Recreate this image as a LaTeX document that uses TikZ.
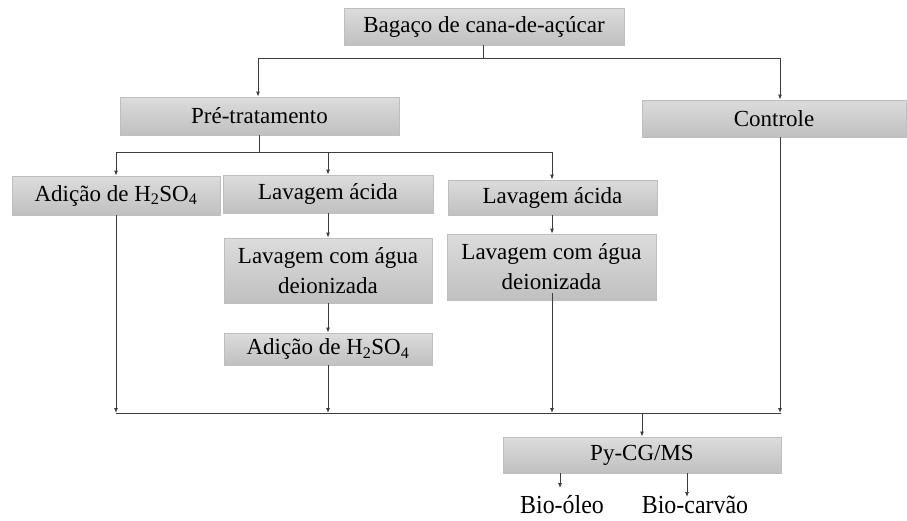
\documentclass[tikz,border=0pt]{standalone}
\usepackage{fontspec}
\setmainfont{Liberation Serif}
\newfontfamily\biofont[FakeStretch=0.92]{Liberation Serif}
\usetikzlibrary{arrows.meta,calc}
\definecolor{boxtop}{RGB}{220,220,220}
\definecolor{boxbot}{RGB}{192,192,192}
\definecolor{boxline}{RGB}{190,190,190}
\definecolor{lin}{RGB}{60,60,60}
\tikzset{
  pbox/.style={draw=boxline, line width=0.8pt, top color=boxtop, bottom color=boxbot,
    inner sep=0pt, align=center, font=\fontsize{23}{30}\selectfont, text=black},
  outtxt/.style={inner sep=0pt, font=\biofont\fontsize{26}{30}\selectfont, text=black},
  conn/.style={draw=lin, line width=0.9pt},
  arr/.style={conn, -{Latex[length=5pt,width=4pt]}}
}
\begin{document}
\begin{tikzpicture}[x=1pt,y=-1pt]
\useasboundingbox (0,0) rectangle (907,520);
% boxes
\node[pbox, minimum width=280pt, minimum height=37pt] (top) at (484,26.5) {Bagaço de cana-de-açúcar};
\node[pbox, minimum width=279pt, minimum height=38pt] (pre) at (259.5,116) {Pré-tratamento};
\node[pbox, minimum width=264pt, minimum height=37pt] (ctrl) at (774,118.5) {Controle};
\node[pbox, minimum width=208pt, minimum height=39pt] (ad1) at (116,195.5) {Adição de H\textsubscript{2}SO\textsubscript{4}};
\node[pbox, minimum width=210pt, minimum height=38pt] (la1) at (328,194) {Lavagem ácida};
\node[pbox, minimum width=209pt, minimum height=35pt] (la2) at (552.5,197.5) {Lavagem ácida};
\node[pbox, minimum width=208pt, minimum height=65pt] (lw1) at (328,270.5) {Lavagem com água\\deionizada};
\node[pbox, minimum width=209pt, minimum height=66pt] (lw2) at (551.5,267) {Lavagem com água\\deionizada};
\node[pbox, minimum width=208pt, minimum height=32pt] (ad2) at (328,349) {Adição de H\textsubscript{2}SO\textsubscript{4}};
\node[pbox, minimum width=278pt, minimum height=36pt] (py) at (642,455) {Py-CG/MS};
\node[outtxt, anchor=base] (bio1) at (562,513) {Bio-óleo};
\node[outtxt, anchor=base] (bio2) at (695,513) {Bio-carvão};
% junction coordinates
\coordinate (j1) at (483,58);
\coordinate (j2) at (259,152);
\coordinate (bl) at (116,413);
\coordinate (br) at (781,413);
\coordinate (jpy) at (642,413);
\coordinate (lw2in) at (552,293);
% top split
\draw[conn] (top.south -| j1) -- (j1);
\draw[conn] (258,58) -- (780,58);
\draw[arr] (258,58) -- (258,58 |- pre.north);
\draw[arr] (780,58) -- (780,58 |- ctrl.north);
% pre split
\draw[conn] (pre.south -| j2) -- (j2);
\draw[conn] (116,152) -- (552,152);
\draw[arr] (116,152) -- (ad1.north);
\draw[arr] (328,152) -- (la1.north);
\draw[arr] (552,152) -- (552,152 |- la2.north);
% chains
\draw[arr] (la1) -- (lw1);
\draw[arr] (552,0 |- la2.south) -- (552,0 |- lw2.north);
\draw[arr] (lw1) -- (ad2);
% down to collector
\draw[arr] (ad1.south) -- (bl);
\draw[arr] (ad2.south) -- (328,413);
\draw[arr] (lw2in) -- (552,413);
\draw[arr] (780,0 |- ctrl.south) -- (780,413);
\draw[conn] (bl) -- (br);
\draw[arr] (jpy) -- (py.north);
% outputs
\draw[arr] (560,0 |- py.south) -- (560,488);
\draw[arr] (687,0 |- py.south) -- (687,497);
\end{tikzpicture}
\end{document}
